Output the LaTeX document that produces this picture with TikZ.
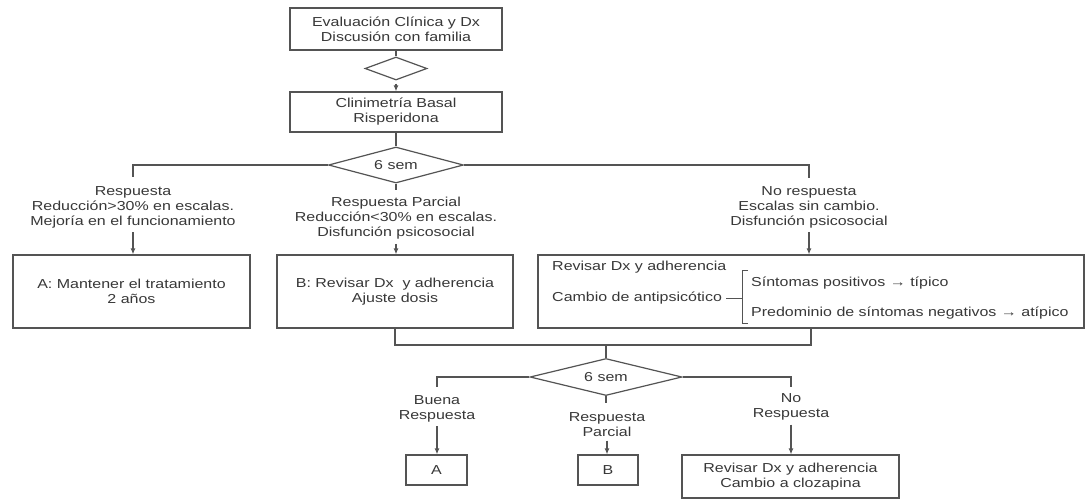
\documentclass[tikz,border=0pt]{standalone}
\usepackage{fontspec}
\setmainfont{Liberation Sans}[FakeStretch=1.23]
\usetikzlibrary{shapes.geometric,arrows.meta}
\definecolor{lc}{gray}{0.33}
\definecolor{tc}{gray}{0.22}
\tikzset{
  ln/.style={draw=lc, line width=1.2pt},
  box/.style={draw=lc, line width=1.2pt, rectangle, inner sep=0pt, align=center, text=tc},
  dia/.style={draw=lc, line width=1.2pt, diamond, inner sep=0pt, text=tc},
  lbl/.style={align=center, text=tc, inner sep=1pt},
  arr/.style={ln, shorten <=3pt, -{Latex[length=6pt,width=5pt]}},
}
\begin{document}
\begin{tikzpicture}[x=1pt, y=-1pt, font=\fontsize{13}{15}\selectfont]
\fill[white] (0,0) rectangle (1086,499);
\useasboundingbox (0,0) rectangle (1086,499);

% top part
\node[box, minimum width=212pt, minimum height=42pt] (top) at (396,29) {Evaluación Clínica y Dx\\Discusión con familia};
\node[dia, minimum width=62pt, minimum height=23pt] (d1) at (396,68.5) {};
\node[box, minimum width=212pt, minimum height=40pt] (b2) at (396,112) {Clinimetría Basal\\Risperidona};
\node[dia, aspect=3.75, minimum width=135pt, minimum height=36pt] (d2) at (396,165) {6 sem};
\draw[ln] (top.south) -- (d1.north);
\draw[arr] (d1.south) -- (b2.north);
\draw[ln] (b2.south) -- (d2.north);

% first level branches
\coordinate (tL) at (133,177);
\coordinate (tM) at (396,190);
\coordinate (tR) at (809,178);
\draw[ln] (d2.west) -| (tL);
\draw[ln] (d2.south) -- (tM);
\draw[ln] (d2.east) -| (tR);

\node[lbl] (lL) at (133,207) {Respuesta\\Reducción>30\% en escalas.\\Mejoría en el funcionamiento};
\node[lbl] (lM) at (396,218.5) {Respuesta Parcial\\Reducción<30\% en escalas.\\Disfunción psicosocial};
\node[lbl] (lR) at (809,207) {No respuesta\\Escalas sin cambio.\\Disfunción psicosocial};

\node[box, minimum width=237pt, minimum height=73pt] (bA) at (131.5,291.5) {A: Mantener el tratamiento\\2 años};
\node[box, minimum width=236pt, minimum height=73pt] (bB) at (395,291.5) {B: Revisar Dx\ \ y adherencia\\Ajuste dosis};
\node[box, minimum width=546pt, minimum height=73pt] (bC) at (811,291.5) {};

\draw[arr] (lL.south) -- (lL.south |- bA.north);
\draw[arr] (lM.south) -- (lM.south |- bB.north);
\draw[arr] (lR.south) -- (lR.south |- bC.north);

% content of box C
\node[lbl, anchor=west] (c1) at (551,267) {Revisar Dx y adherencia};
\node[lbl, anchor=west] (c2) at (551,298) {Cambio de antipsicótico};
\coordinate (br) at (742,298);
\draw[ln, line width=1pt] ([xshift=3pt]c2.east) -- (br);
\draw[ln, line width=1pt] (748,270) -- (742,270) -- (742,323) -- (748,323);
\node[lbl, anchor=west] (c3) at (750,283) {Síntomas positivos → típico};
\node[lbl, anchor=west] (c4) at (750,313) {Predominio de síntomas negativos → atípico};

% second decision
\node[dia, aspect=4.1, minimum width=152pt, minimum height=37pt] (d3) at (606,377) {6 sem};
\coordinate (j) at (606,345);
\draw[ln] (bB.south) |- (j) -| (bC.south);
\draw[ln] (j) -- (d3.north);

\coordinate (tL2) at (437,387);
\coordinate (tM2) at (606,403);
\coordinate (tR2) at (791,387);
\draw[ln] (d3.west) -| (tL2);
\draw[ln] (d3.south) -- (tM2);
\draw[ln] (d3.east) -| (tR2);

\node[lbl] (lL2) at (437,408.5) {Buena\\Respuesta};
\node[lbl] (lM2) at (607,424.5) {Respuesta\\Parcial};
\node[lbl] (lR2) at (791,407) {No\\Respuesta};

\node[box, minimum width=61pt, minimum height=30pt] (bA2) at (436.5,470) {A};
\node[box, minimum width=60pt, minimum height=30pt] (bB2) at (608,470) {B};
\node[box, minimum width=217pt, minimum height=43pt] (bR2) at (790.5,476.5) {Revisar Dx y adherencia\\Cambio a clozapina};

\draw[arr] (lL2.south) -- (lL2.south |- bA2.north);
\draw[arr] (lM2.south) -- (lM2.south |- bB2.north);
\draw[arr] (lR2.south) -- (lR2.south |- bR2.north);
\end{tikzpicture}
\end{document}
